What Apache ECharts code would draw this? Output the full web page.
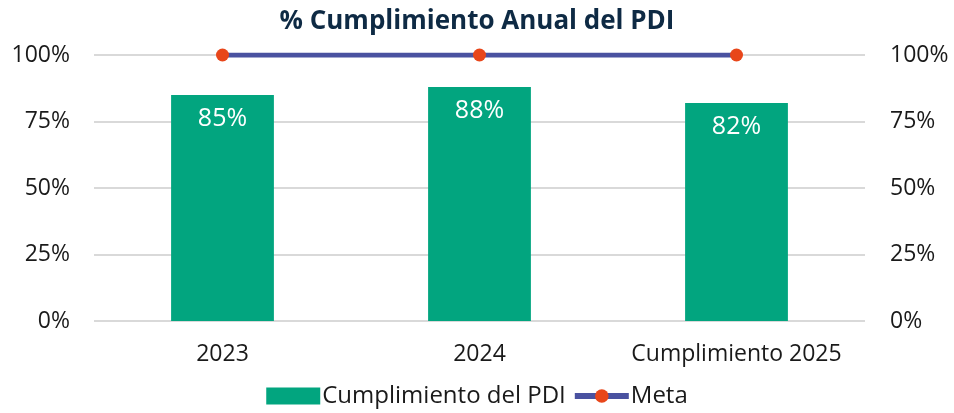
<!DOCTYPE html>
<html>
<head>
<meta charset="utf-8">
<script src="https://cdn.jsdelivr.net/npm/echarts@6/dist/echarts.min.js"></script>
<style>
  html, body { margin: 0; padding: 0; background: #fff; }
  #chart { width: 954px; height: 413px; }
</style>
</head>
<body>
<div id="chart"></div>
<script>
const categories = ['2023', '2024', 'Cumplimiento 2025'];
const cumplimiento = [85, 88, 82];
const meta = [100, 100, 100];

const myChart = echarts.init(document.getElementById('chart'));
const font = 'Open Sans';

const pctAxis = function (pos) {
    return {
        type: 'value',
        position: pos,
        min: 0,
        max: 100,
        interval: 25,
        axisLine: { show: false },
        axisTick: { show: false },
        splitLine: { show: pos === 'left', lineStyle: { color: '#d9d9d9', width: 2 } },
        axisLabel: {
            formatter: '{value}%',
            fontFamily: font,
            fontSize: 23,
            color: '#1a1a1a',
            margin: pos === 'left' ? 24 : 25,
            align: pos === 'left' ? 'right' : 'left'
        }
    };
};

const option = {
    title: {
        text: '% Cumplimiento Anual del PDI',
        left: 'center',
        top: 4,
        textStyle: {
            fontFamily: font,
            fontWeight: 'bold',
            fontSize: 26,
            color: '#0e2a44'
        }
    },
    legend: {
        bottom: 0,
        left: 'center',
        itemGap: 6,
        itemWidth: 54,
        itemHeight: 17,
        textStyle: { fontFamily: font, fontSize: 24, color: '#1a1a1a', padding: [0, 0, 0, -3] },
        data: [
            { name: 'Cumplimiento del PDI', icon: 'rect' },
            { name: 'Meta', lineStyle: { width: 6 } }
        ]
    },
    grid: {
        left: 94,
        right: 89,
        top: 55,
        bottom: 92
    },
    xAxis: {
        type: 'category',
        data: categories,
        axisLine: { show: false },
        axisTick: { show: false },
        axisLabel: {
            interval: 0,
            hideOverlap: false,
            fontFamily: font,
            fontSize: 23,
            color: '#1a1a1a',
            margin: 22
        }
    },
    yAxis: [pctAxis('left'), pctAxis('right')],
    series: [
        {
            name: 'Cumplimiento del PDI',
            type: 'bar',
            data: cumplimiento,
            barWidth: '40%',
            itemStyle: { color: '#02a57f' },
            label: {
                show: true,
                position: 'insideTop',
                distance: 11,
                formatter: '{c}%',
                fontFamily: font,
                fontSize: 25,
                color: '#fff'
            }
        },
        {
            name: 'Meta',
            type: 'line',
            data: meta,
            symbol: 'circle',
            symbolSize: 13,
            lineStyle: { color: '#4a52a0', width: 5 },
            itemStyle: { color: '#e8461a' }
        }
    ]
};
myChart.setOption(option);
</script>
</body>
</html>
